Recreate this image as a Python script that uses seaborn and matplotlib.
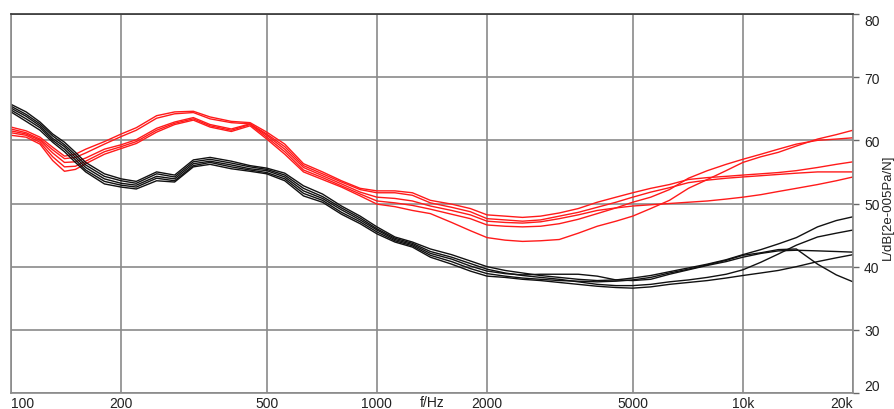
import numpy as np
import pandas as pd
import matplotlib
matplotlib.use("Agg")
import matplotlib.pyplot as plt
import seaborn as sns

# frequency grid (Hz)
freq = [100, 110, 120, 130, 140, 150, 160, 180, 200, 220, 250, 280, 315, 350, 400, 450, 500,
        560, 630, 710, 800, 900, 1000, 1120, 1250, 1400, 1600, 1800, 2000,
        2240, 2500, 2800, 3150, 3550, 4000, 4500, 5000, 5600, 6300, 7100, 8000, 9000,
        10000, 11200, 12500, 14000, 16000, 18000, 20000]

# black curves (dB)
black_1 = [65.7, 64.5, 62.9, 61.0, 59.7, 58.1, 56.5, 54.7, 53.9, 53.5, 55.0, 54.5, 56.9, 57.3, 56.7, 56.0, 55.6,
           54.8, 52.8, 51.5, 49.6, 48.0, 46.3, 44.7, 43.9, 42.8, 41.9, 40.9, 40.0,
           39.4, 39.0, 38.6, 38.3, 38.0, 37.8, 37.9, 38.2, 38.6, 39.2, 39.8, 40.4, 41.1,
           41.9, 42.7, 43.6, 44.6, 46.3, 47.3, 47.9]
black_2 = [65.4, 64.1, 62.6, 60.7, 59.3, 57.7, 56.1, 54.3, 53.6, 53.2, 54.7, 54.2, 56.6, 57.0, 56.4, 55.8, 55.4,
           54.5, 52.4, 51.1, 49.3, 47.7, 46.0, 44.5, 43.7, 42.4, 41.5, 40.5, 39.6,
           39.0, 38.6, 38.3, 38.0, 37.6, 37.2, 37.0, 37.0, 37.2, 37.6, 37.9, 38.3, 38.8,
           39.5, 40.7, 42.0, 43.4, 44.7, 45.3, 45.8]
black_3 = [65.1, 63.8, 62.3, 60.3, 59.0, 57.3, 55.7, 53.9, 53.2, 52.9, 54.3, 53.9, 56.3, 56.7, 56.1, 55.5, 55.2,
           54.2, 52.0, 50.8, 49.0, 47.4, 45.8, 44.3, 43.5, 42.1, 41.2, 40.1, 39.3,
           38.9, 38.7, 38.8, 38.8, 38.8, 38.5, 37.9, 37.8, 38.0, 38.8, 39.5, 40.2, 40.8,
           41.5, 42.1, 42.5, 42.6, 42.5, 42.4, 42.3]
black_4 = [64.8, 63.4, 62.0, 60.0, 58.6, 56.9, 55.3, 53.5, 52.9, 52.6, 54.0, 53.6, 56.0, 56.5, 55.8, 55.3, 54.9,
           53.9, 51.6, 50.5, 48.6, 47.1, 45.5, 44.1, 43.3, 41.8, 40.8, 39.7, 38.9,
           38.5, 38.2, 38.0, 37.8, 37.7, 37.6, 37.7, 37.9, 38.3, 39.0, 39.6, 40.3, 41.0,
           41.8, 42.2, 42.7, 42.8, 40.4, 38.7, 37.6]
black_5 = [64.5, 63.0, 61.6, 59.7, 58.2, 56.5, 55.0, 53.1, 52.6, 52.3, 53.6, 53.4, 55.8, 56.2, 55.5, 55.1, 54.7,
           53.6, 51.2, 50.2, 48.3, 46.8, 45.2, 43.9, 43.1, 41.5, 40.4, 39.3, 38.5,
           38.3, 38.0, 37.8, 37.5, 37.2, 36.9, 36.7, 36.6, 36.8, 37.2, 37.5, 37.8, 38.2,
           38.6, 39.0, 39.4, 40.0, 40.8, 41.4, 41.9]

# red curves (dB)
red_1 = [62.1, 61.5, 60.5, 58.9, 57.5, 57.8, 58.6, 59.8, 61.0, 62.0, 63.9, 64.5, 64.6, 63.7, 63.0, 62.8, 61.3,
         59.4, 56.3, 55.0, 53.6, 52.4, 52.0, 52.0, 51.7, 50.5, 49.9, 49.2, 48.2,
         48.0, 47.8, 48.0, 48.5, 49.2, 50.2, 51.0, 51.7, 52.4, 53.0, 53.8, 54.1, 54.3,
         54.5, 54.7, 54.9, 55.2, 55.7, 56.2, 56.6]
red_2 = [61.8, 61.2, 60.2, 58.5, 57.1, 57.3, 58.0, 59.4, 60.6, 61.6, 63.5, 64.2, 64.4, 63.4, 62.8, 62.6, 61.0,
         59.0, 56.0, 54.7, 53.4, 52.2, 51.7, 51.7, 51.3, 50.1, 49.4, 48.7, 47.6,
         47.4, 47.2, 47.4, 48.0, 48.6, 49.4, 50.2, 51.0, 51.8, 52.5, 53.3, 53.7, 54.0,
         54.2, 54.4, 54.6, 54.8, 55.0, 55.0, 55.0]
red_3 = [61.5, 61.0, 60.0, 58.0, 56.5, 56.6, 57.2, 58.6, 59.3, 60.1, 61.9, 62.9, 63.6, 62.5, 61.8, 62.6, 60.8,
         58.6, 55.7, 54.4, 53.1, 51.8, 51.0, 50.8, 50.4, 49.6, 48.9, 48.2, 47.2,
         47.0, 46.9, 47.1, 47.6, 48.2, 48.9, 49.3, 49.6, 49.8, 50.0, 50.2, 50.4, 50.7,
         51.0, 51.4, 51.9, 52.4, 53.0, 53.6, 54.2]
red_4 = [61.2, 60.8, 59.7, 57.4, 55.8, 55.9, 56.7, 58.2, 59.0, 59.8, 61.6, 62.7, 63.4, 62.3, 61.6, 62.5, 60.5,
         58.2, 55.3, 54.1, 52.8, 51.5, 50.4, 50.1, 49.7, 49.1, 48.3, 47.6, 46.6,
         46.4, 46.3, 46.4, 46.8, 47.5, 48.4, 49.3, 50.2, 51.0, 52.2, 54.0, 55.2, 56.2,
         57.0, 57.8, 58.6, 59.4, 60.0, 60.2, 60.4]
red_5 = [60.8, 60.5, 59.4, 56.8, 55.1, 55.4, 56.3, 57.8, 58.7, 59.5, 61.3, 62.5, 63.2, 62.1, 61.4, 62.3, 60.2,
         57.8, 55.0, 53.8, 52.6, 51.2, 49.9, 49.5, 48.9, 48.4, 47.0, 45.7, 44.6,
         44.2, 44.0, 44.1, 44.3, 45.3, 46.4, 47.2, 48.0, 49.2, 50.5, 52.4, 53.8, 55.2,
         56.5, 57.4, 58.1, 59.1, 60.2, 60.9, 61.6]

x_ticks = [100, 200, 500, 1000, 2000, 5000, 10000, 20000]
x_tick_labels = ["100", "200", "500", "1000", "2000", "5000", "10k", "20k"]
y_ticks = [20, 30, 40, 50, 60, 70, 80]
y_tick_labels = ["20", "30", "40", "50", "60", "70", "80"]
x_axis_name = "f/Hz"
y_axis_name = "L/dB[2e-005Pa/N]"

series = {"r1": red_1, "r2": red_2, "r3": red_3, "r4": red_4, "r5": red_5,
          "k1": black_1, "k2": black_2, "k3": black_3, "k4": black_4, "k5": black_5}
rows = []
for name, vals in series.items():
    for f, v in zip(freq, vals):
        rows.append((name, f, v))
df = pd.DataFrame(rows, columns=["curve", "f", "L"])

sns.set_style("white")
plt.rcParams["font.family"] = ["Liberation Sans", "DejaVu Sans"]

fig = plt.figure(figsize=(8.95, 4.10), dpi=100)
ax = fig.add_axes([11 / 895, 16 / 410, 842 / 895, 379 / 410])

palette = {k: ("#ff1a1a" if k.startswith("r") else "#111111") for k in series}
sns.lineplot(data=df, x="f", y="L", hue="curve", hue_order=list(series.keys()),
             palette=palette, estimator=None, sort=False, legend=False,
             linewidth=1.0, ax=ax)

ax.set_xscale("log")
ax.set_xlim(100, 20000)
ax.set_ylim(20, 80)
ax.set_xticks(x_ticks, x_tick_labels)
ax.set_yticks(y_ticks, y_tick_labels)
ax.xaxis.set_minor_locator(matplotlib.ticker.NullLocator())
ax.set_xlabel("")
ax.set_ylabel("")
ax.grid(True, color="#8a8a8a", linewidth=1.2)
ax.set_axisbelow(True)

ax.yaxis.tick_right()
ax.tick_params(axis="y", length=4, width=1, color="#666666", labelsize=10,
               labelcolor="#222222", pad=4)
ax.tick_params(axis="x", length=0, labelsize=10, labelcolor="#222222", pad=2)

for s in ["left", "bottom", "right"]:
    ax.spines[s].set_color("#8a8a8a")
    ax.spines[s].set_linewidth(1.2)
ax.spines["top"].set_color("#333333")
ax.spines["top"].set_linewidth(1.2)

xl = ax.get_xticklabels()
xl[0].set_ha("left")
xl[-1].set_ha("right")
yl = ax.get_yticklabels()
yl[0].set_va("bottom")
yl[-1].set_va("top")

fig.text(432 / 895, 1 - 403 / 410, x_axis_name, ha="center", va="center",
         fontsize=10, color="#222222")
fig.text(893.5 / 895, 1 - 207 / 410, y_axis_name, rotation=90, ha="right", va="center",
         fontsize=9.5, color="#222222")

fig.savefig("out.png", dpi=100, facecolor="white")
